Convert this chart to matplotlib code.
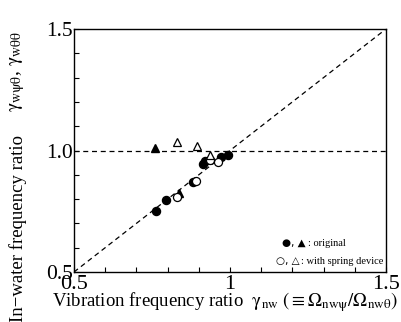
import matplotlib
matplotlib.use("Agg")
import matplotlib.pyplot as plt
import numpy as np

plt.rcParams['font.family'] = ['Liberation Serif', 'DejaVu Serif']
plt.rcParams['mathtext.fontset'] = 'stix'

# data
orig_circle_x = [0.763, 0.794, 0.880, 0.915, 0.921, 0.970, 0.993]
orig_circle_y = [0.752, 0.796, 0.871, 0.946, 0.956, 0.972, 0.982]
orig_tri_x = [0.760, 0.838]
orig_tri_y = [1.012, 0.826]
spring_circle_x = [0.829, 0.890, 0.936, 0.963]
spring_circle_y = [0.810, 0.875, 0.960, 0.952]
spring_tri_x = [0.829, 0.893, 0.935]
spring_tri_y = [1.035, 1.020, 0.983]

x_ticks = [0.5, 1.0, 1.5]
x_ticklabels = ['0.5', '1', '1.5']
y_ticks = [0.5, 1.0, 1.5]
y_ticklabels = ['0.5', '1.0', '1.5']

fig = plt.figure(figsize=(4.01, 3.22), dpi=100)
ax = fig.add_axes([74/401, 1-272/322, (386-74)/401, (272-29)/322])

ax.plot([0.5, 1.5], [0.5, 1.5], ls=(0, (4, 3)), color='black', lw=0.9, zorder=1)
ax.axhline(1.0, ls=(0, (4, 3)), color='black', lw=0.9, zorder=1)

ms = 5.8
ax.plot(orig_circle_x, orig_circle_y, 'o', color='black', ms=ms, zorder=3)
ax.plot(orig_tri_x, orig_tri_y, '^', color='black', ms=ms, zorder=3)
ax.plot(spring_circle_x, spring_circle_y, 'o', mfc='white', mec='black', mew=0.9, ms=ms, zorder=4)
ax.plot(spring_tri_x, spring_tri_y, '^', mfc='white', mec='black', mew=0.9, ms=ms+0.5, zorder=4)

ax.set_xlim(0.5, 1.5)
ax.set_ylim(0.5, 1.5)
ax.set_xticks(x_ticks)
ax.set_xticklabels(x_ticklabels)
ax.set_yticks(y_ticks)
ax.set_yticklabels(y_ticklabels)
ax.set_xticks(np.arange(0.6, 1.45, 0.1), minor=True)
ax.set_yticks(np.arange(0.6, 1.45, 0.1), minor=True)
ax.tick_params(which='both', direction='in', length=3.5, width=0.8)
ax.tick_params(axis='x', labelsize=16, pad=2)
ax.tick_params(axis='y', labelsize=15.5, pad=1)
for s in ax.spines.values():
    s.set_linewidth(1.0)

sym_fam = ['DejaVu Sans']
ax.text(1.168, 0.619, '●, ▲', fontsize=7.5, family=sym_fam, va='center', ha='left')
ax.text(1.251, 0.619, ': original', fontsize=7.5, va='center', ha='left')
ax.text(1.146, 0.545, '○, △', fontsize=7.5, family=sym_fam, va='center', ha='left')
ax.text(1.229, 0.545, ': with spring device', fontsize=7.5, va='center', ha='left')

fig.text(225/401, 1-302/322,
         r'Vibration frequency ratio  $\mathrm{\gamma_{nw}}$ $\mathrm{(\equiv\Omega_{nw\psi}/\Omega_{nw\theta})}$',
         fontsize=13.5, ha='center', va='center')
fig.text(18/401, 1-228/322, 'In\u2212water frequency ratio',
         fontsize=13.5, ha='center', va='center', rotation=90)
fig.text(18/401, 1-72/322, r'$\mathrm{\gamma_{w\psi\theta}}$, $\mathrm{\gamma_{w\theta\theta}}$',
         fontsize=14, ha='center', va='center', rotation=90)

fig.savefig('out.png', dpi=100)
